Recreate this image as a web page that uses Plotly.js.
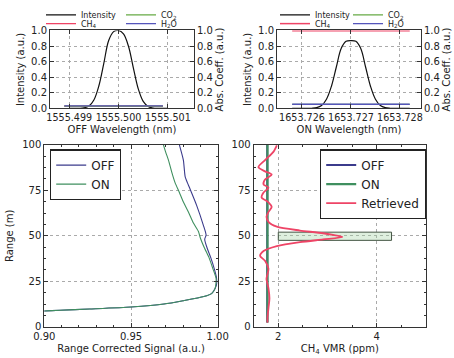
<!DOCTYPE html>
<html><head><meta charset="utf-8">
<script src="https://cdn.plot.ly/plotly-3.0.1.min.js"></script>
<style>html,body{margin:0;padding:0;background:#fff}#chart{width:454px;height:358px}</style>
</head><body><div id="chart"></div>
<script>
// ---- OFF wavelength panel ----
const offWl = [1555.4990,1555.4991,1555.4992,1555.4993,1555.4994,1555.4995,1555.4996,1555.4997,1555.4998,1555.4999,1555.5000,1555.5001,1555.5002,1555.5003,1555.5004,1555.5005,1555.5006,1555.5007,1555.5008,1555.5009,1555.5010];
const offIntensity = [0,0,0.001,0.007,0.031,0.109,0.288,0.575,0.871,0.985,1.0,0.955,0.80,0.52,0.25,0.09,0.025,0.005,0.001,0,0];
const offAbsWl = [1555.4989,1555.5009];
const offCH4 = [0.03,0.03];
const offCO2 = [0.03,0.03];
const offH2O = [0.034,0.034];
// ---- ON wavelength panel ----
const onWl = [1653.7258,1653.7259,1653.7260,1653.7261,1653.7262,1653.7263,1653.7264,1653.7265,1653.7266,1653.7267,1653.7268,1653.7269,1653.7270,1653.7271,1653.7272,1653.7273,1653.7274,1653.7275,1653.7276,1653.7277,1653.7278,1653.7279,1653.7280,1653.7281,1653.7282];
const onIntensity = [0,0,0,0,0.002,0.010,0.038,0.118,0.282,0.528,0.768,0.860,0.870,0.860,0.768,0.528,0.282,0.118,0.038,0.010,0.002,0,0,0,0];
const onAbsWl = [1653.7258,1653.7282];
const onCH4 = [0.997,0.997];
const onCO2 = [0.052,0.052];
const onH2O = [0.054,0.054];
// ---- Range corrected signal ----
const rcsOffX = [0.880,0.900,0.909,0.926,0.950,0.969,0.980,0.992,0.9966,0.9985,0.9995,0.9993,0.9980,0.9960,0.9940,0.9925,0.9933,0.9917,0.9879,0.9841,0.9825,0.9812,0.9802,0.9779];
const rcsOffY = [8.0,8.7,9.1,9.8,10.9,12.5,14.3,16.6,18.4,21.1,24,27,32,38,43,48,50.5,55.9,66.6,75.6,79.2,82.7,91.6,100];
const rcsOnX = [0.880,0.900,0.909,0.926,0.950,0.969,0.980,0.992,0.9966,0.9985,0.9991,0.9972,0.9950,0.9925,0.9900,0.9889,0.9860,0.9831,0.9800,0.9779,0.9754,0.9735,0.9716,0.9700,0.9687];
const rcsOnY = [8.0,8.7,9.1,9.8,10.9,12.5,14.3,16.6,18.4,21.1,26.4,32,38,43,48.8,52.4,57,63.1,69,73.8,79.2,85,91.6,96,100];
// ---- CH4 VMR ----
const vmrOffX = [1.775,1.775];
const vmrOffY = [2.3,100];
const vmrOnX = [1.78,1.78];
const vmrOnY = [2.3,100];
const retrievedY = [2.3,5.0,10.3,15.7,21.1,26.4,31.8,36.3,39.0,41.6,44.3,46.5,48.0,49.3,51.4,52.9,55.0,57.7,60.4,63.1,65.8,68.4,71.1,73.8,76.5,78.2,80.9,83.6,85.4,87.7,91.6,96.1,99.7];
const retrievedX = [1.78,1.78,1.80,1.82,1.80,1.76,1.80,1.73,1.63,1.70,1.97,2.44,2.91,3.30,2.91,2.44,1.97,1.80,1.76,1.80,1.865,1.80,1.66,1.70,1.80,1.70,1.73,1.865,1.73,1.595,1.73,1.90,1.97];
const boxX = [2.0,4.3,4.3,2.0,2.0];
const boxY = [47.5,47.5,52,52,47.5];

const cBlack='#111', cCH4='#ee4466', cCO2='#66aa44', cH2O='#5555bb', cOff='#3b3b8c', cOn='#3f8f5f';

const traces = [
  {x:offWl,y:offIntensity,xaxis:'x',yaxis:'y',mode:'lines',line:{color:cBlack,width:1.2,shape:'spline'},name:'Intensity',legend:'legend'},
  {x:offAbsWl,y:offCH4,xaxis:'x',yaxis:'y2',mode:'lines',line:{color:cCH4,width:1.3},name:'CH<sub>4</sub>',legend:'legend2'},
  {x:offAbsWl,y:offCO2,xaxis:'x',yaxis:'y2',mode:'lines',line:{color:cCO2,width:1.3},name:'CO<sub>2</sub>',legend:'legend3'},
  {x:offAbsWl,y:offH2O,xaxis:'x',yaxis:'y2',mode:'lines',line:{color:cH2O,width:1.3},name:'H<sub>2</sub>O',legend:'legend4'},
  {x:onWl,y:onIntensity,xaxis:'x2',yaxis:'y3',mode:'lines',line:{color:cBlack,width:1.2,shape:'spline'},name:'Intensity',legend:'legend5'},
  {x:onAbsWl,y:onCH4,xaxis:'x2',yaxis:'y4',mode:'lines',line:{color:cCH4,width:1.5},name:'CH<sub>4</sub>',legend:'legend6'},
  {x:onAbsWl,y:onCO2,xaxis:'x2',yaxis:'y4',mode:'lines',line:{color:cCO2,width:1.3},name:'CO<sub>2</sub>',legend:'legend7'},
  {x:onAbsWl,y:onH2O,xaxis:'x2',yaxis:'y4',mode:'lines',line:{color:cH2O,width:1.3},name:'H<sub>2</sub>O',legend:'legend8'},
  {x:rcsOffX,y:rcsOffY,xaxis:'x3',yaxis:'y5',mode:'lines',line:{color:cOff,width:1.1,shape:'spline',smoothing:0.6},name:'OFF',legend:'legend9'},
  {x:rcsOnX,y:rcsOnY,xaxis:'x3',yaxis:'y5',mode:'lines',line:{color:cOn,width:1.1,shape:'spline',smoothing:0.6},name:'ON',legend:'legend9'},
  {x:boxX,y:boxY,xaxis:'x4',yaxis:'y6',mode:'lines',fill:'toself',fillcolor:'rgba(160,210,160,0.35)',line:{color:'#445544',width:1},showlegend:false,hoverinfo:'skip'},
  {x:vmrOffX,y:vmrOffY,xaxis:'x4',yaxis:'y6',mode:'lines',line:{color:cOff,width:2},name:'OFF',legend:'legend10'},
  {x:vmrOnX,y:vmrOnY,xaxis:'x4',yaxis:'y6',mode:'lines',line:{color:cOn,width:2.2},name:'ON',legend:'legend10'},
  {x:retrievedX,y:retrievedY,xaxis:'x4',yaxis:'y6',mode:'lines',line:{color:cCH4,width:1.8,shape:'spline',smoothing:0.7},name:'Retrieved',legend:'legend10'}
];

const W=454,H=358;
const ax = {showline:true,linecolor:'#333',linewidth:1,mirror:'ticks',ticks:'inside',ticklen:4,tickcolor:'#333',
  showgrid:true,gridcolor:'#aaa',griddash:'dot',gridwidth:1,zeroline:false,tickangle:0,tickfont:{size:10,color:'#222'}};
function A(o){return Object.assign({},ax,o);}
const TF={size:10,color:'#222'};
const XTF={size:9.6,color:'#222'};
function itemLegend(tx,ty){return {x:(tx-42)/W,y:1-ty/H,xanchor:'left',yanchor:'middle',orientation:'v',bgcolor:'rgba(0,0,0,0)',borderwidth:0,font:{size:8,color:'#222'},itemwidth:30};}
function boxLegend(bx,by){return {x:bx/W,y:1-by/H,xanchor:'left',yanchor:'top',orientation:'v',bgcolor:'#fff',bordercolor:'#222',borderwidth:1.2,font:{size:12,color:'#222'},itemwidth:30,tracegroupgap:0};}

const layout = {
  width:W,height:H,margin:{l:0,r:0,t:0,b:0},paper_bgcolor:'#fff',plot_bgcolor:'#fff',
  font:{family:'DejaVu Sans',size:10,color:'#222'},showlegend:true,
  xaxis:A({domain:[50/W,194/W],anchor:'y',range:[1555.49861,1555.50153],tick0:1555.499,dtick:0.001,tickformat:'.3f',tickfont:XTF,title:{text:'OFF Wavelength (nm)',font:TF,standoff:4}}),
  yaxis:A({domain:[1-102/H,1-22/H],anchor:'x',range:[0,1],dtick:0.2,tickformat:'.1f',mirror:false,title:{text:'Intensity (a.u.)',font:TF,standoff:4}}),
  yaxis2:A({overlaying:'y',side:'right',anchor:'x',range:[0,1],dtick:0.2,tickformat:'.1f',mirror:false,showgrid:false,title:{text:'Abs. Coeff. (a.u.)',font:TF,standoff:4}}),
  xaxis2:A({domain:[277/W,421/W],anchor:'y3',range:[1653.72549,1653.72843],tick0:1653.726,dtick:0.001,tickformat:'.3f',tickfont:XTF,title:{text:'ON Wavelength (nm)',font:TF,standoff:4}}),
  yaxis3:A({domain:[1-102/H,1-22/H],anchor:'x2',range:[0,1],dtick:0.2,tickformat:'.1f',mirror:false,title:{text:'Intensity (a.u.)',font:TF,standoff:4}}),
  yaxis4:A({overlaying:'y3',side:'right',anchor:'x2',range:[0,1],dtick:0.2,tickformat:'.1f',mirror:false,showgrid:false,title:{text:'Abs. Coeff. (a.u.)',font:TF,standoff:4}}),
  xaxis3:A({domain:[44.3/W,217.7/W],anchor:'y5',range:[0.90,1.00],dtick:0.05,tickformat:'.2f',minor:{dtick:0.01,ticks:'inside',ticklen:2,tickcolor:'#333',showgrid:false},title:{text:'Range Corrected Signal (a.u.)',font:TF,standoff:4}}),
  yaxis5:A({domain:[1-326/H,1-139.3/H],anchor:'x3',range:[0,100],dtick:25,minor:{dtick:6.25,ticks:'inside',ticklen:2,tickcolor:'#333',showgrid:false},title:{text:'Range (m)',font:TF,standoff:6}}),
  xaxis4:A({domain:[253.7/W,426/W],anchor:'y6',range:[1.5,5.0],tick0:0,dtick:2,minor:{dtick:0.5,ticks:'inside',ticklen:2,tickcolor:'#333',showgrid:false},title:{text:'CH<sub>4</sub> VMR (ppm)',font:TF,standoff:4}}),
  yaxis6:A({domain:[1-326/H,1-139.3/H],anchor:'x4',range:[0,100],dtick:25,minor:{dtick:6.25,ticks:'inside',ticklen:2,tickcolor:'#333',showgrid:false}}),
  legend:itemLegend(83,6), legend2:itemLegend(83,15), legend3:itemLegend(163,6), legend4:itemLegend(163,15),
  legend5:itemLegend(317,6), legend6:itemLegend(317,15), legend7:itemLegend(390,6), legend8:itemLegend(390,15),
  legend9:boxLegend(50,144), legend10:boxLegend(320,144)
};
Plotly.newPlot('chart',traces,layout,{staticPlot:true,displayModeBar:false});
</script></body></html>
